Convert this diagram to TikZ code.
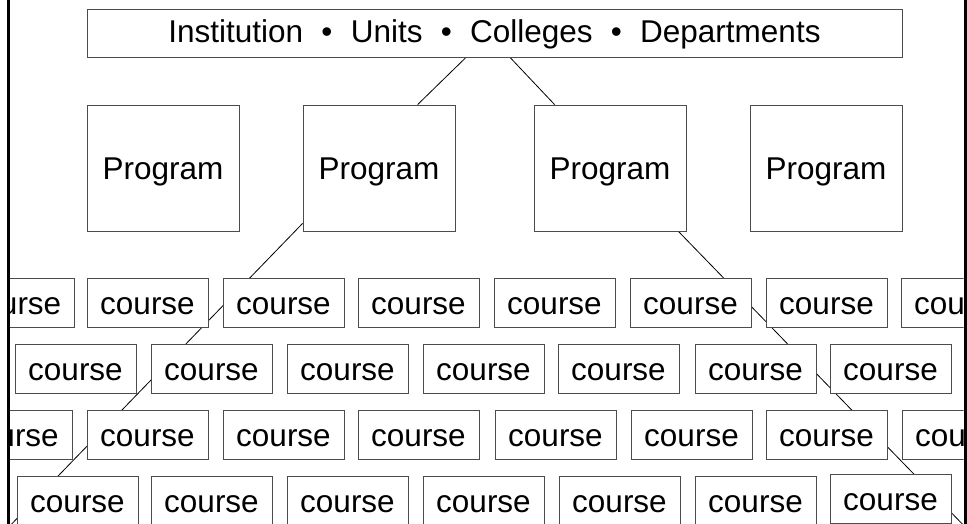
\documentclass[tikz,border=0pt]{standalone}
\usepackage{fontspec}
\setmainfont{Liberation Sans}
\pgfdeclarelayer{bg}
\pgfsetlayers{bg,main}
\begin{document}
\begin{tikzpicture}[x=1pt,y=-1pt,
  box/.style={draw=black!70, line width=0.8pt, fill=white, inner sep=0pt,
    font=\fontsize{31.5}{36}\selectfont, text height=30pt, text depth=6.3pt},
  headbox/.style={box, minimum width=815pt, minimum height=48pt, text height=26.3pt},
  progbox/.style={box, minimum width=152pt, minimum height=126pt},
  coursebox/.style={box, minimum width=121pt, minimum height=49pt},
  link/.style={draw=black, line width=0.8pt},
  frameline/.style={draw=black, line width=3pt}]
\useasboundingbox (0,0) rectangle (967,524);

% boxes, cut off at the two side rules
\begin{scope}
  \clip (9.5,0) rectangle (963.5,524);
  \node[headbox] (top) at (494.5,33)
    {Institution\hspace{0.58em}•\hspace{0.58em}Units\hspace{0.58em}•\hspace{0.58em}Colleges\hspace{0.58em}•\hspace{0.58em}Departments};

  \node[progbox] (p1) at (163,168) {Program};
  \node[progbox] (p2) at (379,168) {Program};
  \node[progbox] (p3) at (610,168) {Program};
  \node[progbox] (p4) at (826,168) {Program};

  \foreach \x [count=\i] in {14,147.5,283.5,418.5,554.5,690.5,826.5,961.5}
    \node[coursebox] (a\i) at (\x,302.8) {course};
  \foreach \x [count=\i] in {75.5,211.5,347.5,483.5,618.5,755.5,890.5}
    \node[coursebox] (b\i) at (\x,368.8) {course};
  \foreach \x [count=\i] in {11.5,147.5,283.5,418.5,555.5,691.5,826.5,962.5}
    \node[coursebox] (c\i) at (\x,434.8) {course};
  \foreach \x [count=\i] in {77.5,211.5,347.5,483.5,619.5,755.5}
    \node[coursebox] (d\i) at (\x,500.5) {course};
  \node[coursebox] (d7) at (890.5,499) {course};
\end{scope}

% connectors run behind the boxes
\coordinate (lowleft) at (-4.8,541);
\coordinate (lowright) at (978.8,541);
\begin{pgfonlayer}{bg}
  \begin{scope}
    \clip (9.5,0) rectangle (963.5,524);
    \draw[link] ([xshift=-28.5pt]top.south) -- ([xshift=115pt]p2.north west);
    \draw[link] ([xshift=15.5pt]top.south) -- ([xshift=21pt]p3.north west);
    \draw[link] ([yshift=8pt]p2.south west) -- (lowleft);
    \draw[link] ([xshift=-8pt]p3.south east) -- (lowright);
  \end{scope}
\end{pgfonlayer}

% side rules
\draw[frameline] (8,0) -- (8,524);
\draw[frameline] (965.5,0) -- (965.5,524);
\end{tikzpicture}
\end{document}
